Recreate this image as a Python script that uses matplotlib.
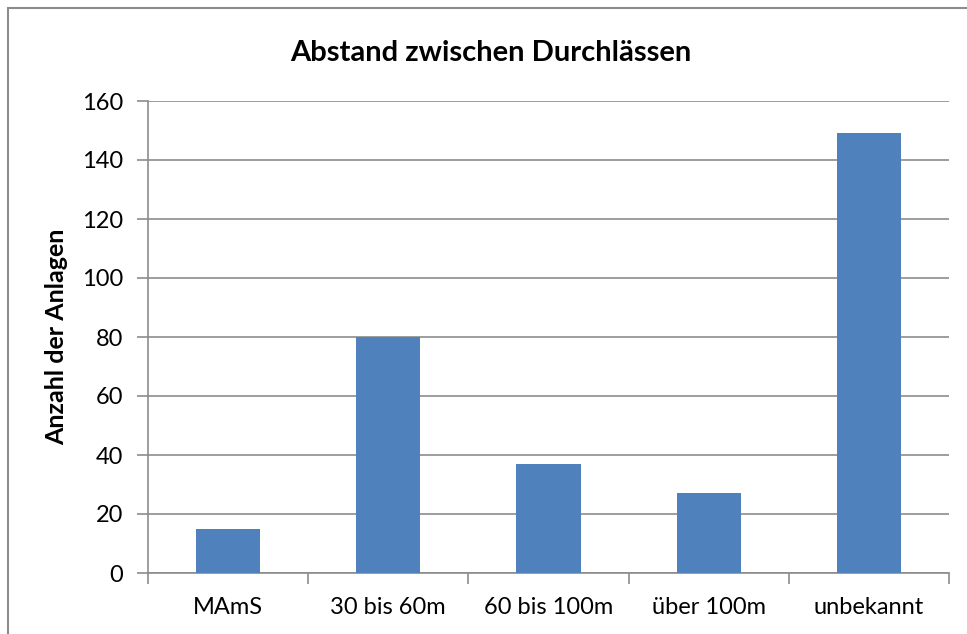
import matplotlib.pyplot as plt
from matplotlib.patches import Rectangle

categories = ["MAmS", "30 bis 60m", "60 bis 100m", "über 100m", "unbekannt"]
counts = [15, 80, 37, 27, 149]

plt.rcParams['font.family'] = ['Lato', 'DejaVu Sans']

fig = plt.figure(figsize=(9.67, 6.34), dpi=100)
ax = fig.add_axes([148 / 967, 1 - 573 / 634, (949 - 148) / 967, (573 - 101) / 634])

# chart frame (cut off at right and bottom like the source)
fig.patches.append(Rectangle((8 / 967, -0.1), 1.2, 1 - 8 / 634 + 0.1,
                             transform=fig.transFigure, fill=False,
                             edgecolor='#8c8c8c', linewidth=1.5))

x = range(len(categories))
ax.bar(x, counts, width=0.4, color='#4f81bd', zorder=3)

ax.set_xlim(-0.5, len(categories) - 0.5)
ax.set_ylim(0, 160)
ax.set_yticks(range(0, 161, 20))
ax.set_xticks(list(x))
ax.set_xticklabels(categories)
ax.set_xticks([i - 0.5 for i in range(len(categories) + 1)], minor=True)

ax.grid(axis='y', color='#8c8c8c', linewidth=1.2, zorder=0)
for s in ['top', 'right']:
    ax.spines[s].set_visible(False)
for s in ['left', 'bottom']:
    ax.spines[s].set_color('#8c8c8c')
    ax.spines[s].set_linewidth(1.2)

ax.tick_params(axis='y', length=8, width=1.2, color='#8c8c8c', labelsize=17, pad=10)
ax.tick_params(axis='x', which='major', length=0, labelsize=17, pad=17)
ax.tick_params(axis='x', which='minor', length=8, width=1.2, color='#8c8c8c')

ax.set_ylabel("Anzahl der Anlagen", fontsize=18, fontweight='bold', labelpad=10)
fig.text(491 / 967, 1 - 53 / 634, "Abstand zwischen Durchlässen", fontsize=21,
         fontweight='bold', ha='center', va='center')

fig.savefig("out.png", dpi=100)
